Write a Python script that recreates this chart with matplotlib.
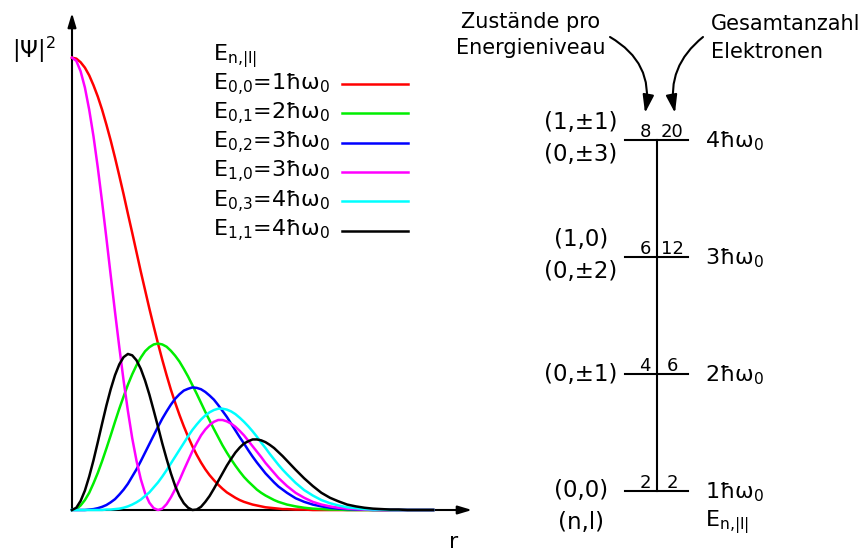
import matplotlib.pyplot as plt

plt.rcParams['font.family'] = 'DejaVu Sans'
plt.rcParams['mathtext.default'] = 'regular'

# radial coordinate (units of the oscillator length)
r = [0.00, 0.05, 0.10, 0.15, 0.20, 0.25, 0.30, 0.35, 0.40, 0.45,
     0.50, 0.55, 0.60, 0.65, 0.70, 0.75, 0.80, 0.85, 0.90, 0.95,
     1.00, 1.05, 1.10, 1.15, 1.20, 1.25, 1.30, 1.35, 1.40, 1.45,
     1.50, 1.55, 1.60, 1.65, 1.70, 1.75, 1.80, 1.85, 1.90, 1.95,
     2.00, 2.05, 2.10, 2.15, 2.20, 2.25, 2.30, 2.35, 2.40, 2.45,
     2.50, 2.6, 2.7, 2.8, 2.9, 3.0, 3.1, 3.2, 3.3, 3.4,
     3.5, 3.6, 3.7, 3.8, 3.9, 4.0, 4.1, 4.2]

# |psi|^2 for each (n, |l|) state
psi_00 = [1.000, 0.998, 0.990, 0.978, 0.961, 0.939, 0.914, 0.885, 0.852, 0.817,
          0.779, 0.739, 0.698, 0.655, 0.613, 0.570, 0.527, 0.486, 0.445, 0.406,
          0.368, 0.332, 0.298, 0.266, 0.237, 0.210, 0.185, 0.162, 0.141, 0.122,
          0.105, 0.090, 0.077, 0.066, 0.056, 0.047, 0.039, 0.033, 0.027, 0.022,
          0.018, 0.015, 0.012, 0.010, 0.008, 0.006, 0.005, 0.004, 0.003, 0.002,
          0.002, 0.001, 0.001, 0, 0, 0, 0, 0, 0, 0,
          0, 0, 0, 0, 0, 0, 0, 0]
psi_01 = [0.000, 0.002, 0.010, 0.022, 0.038, 0.059, 0.082, 0.108, 0.136, 0.165,
          0.195, 0.224, 0.251, 0.277, 0.300, 0.320, 0.337, 0.351, 0.360, 0.366,
          0.368, 0.366, 0.361, 0.352, 0.341, 0.328, 0.312, 0.295, 0.276, 0.257,
          0.237, 0.217, 0.198, 0.179, 0.161, 0.143, 0.127, 0.112, 0.098, 0.085,
          0.073, 0.063, 0.054, 0.045, 0.038, 0.032, 0.027, 0.022, 0.018, 0.015,
          0.012, 0.008, 0.005, 0.003, 0.002, 0.001, 0.001, 0, 0, 0,
          0, 0, 0, 0, 0, 0, 0, 0]
psi_02 = [0.000, 0.000, 0.000, 0.000, 0.001, 0.002, 0.004, 0.007, 0.011, 0.017,
          0.024, 0.034, 0.045, 0.058, 0.074, 0.090, 0.108, 0.127, 0.146, 0.165,
          0.184, 0.202, 0.218, 0.233, 0.246, 0.256, 0.264, 0.268, 0.271, 0.270,
          0.267, 0.261, 0.253, 0.244, 0.232, 0.219, 0.206, 0.191, 0.176, 0.161,
          0.147, 0.132, 0.118, 0.105, 0.093, 0.081, 0.071, 0.061, 0.052, 0.045,
          0.038, 0.026, 0.018, 0.012, 0.008, 0.005, 0.003, 0.002, 0.001, 0.001,
          0, 0, 0, 0, 0, 0, 0, 0]
psi_10 = [1.000, 0.993, 0.970, 0.934, 0.885, 0.826, 0.757, 0.681, 0.601, 0.519,
          0.438, 0.360, 0.286, 0.219, 0.159, 0.109, 0.068, 0.037, 0.016, 0.004,
          0.000, 0.003, 0.013, 0.028, 0.046, 0.066, 0.088, 0.109, 0.130, 0.148,
          0.165, 0.178, 0.188, 0.195, 0.199, 0.199, 0.196, 0.191, 0.184, 0.175,
          0.165, 0.153, 0.141, 0.129, 0.117, 0.104, 0.093, 0.082, 0.071, 0.062,
          0.053, 0.038, 0.027, 0.018, 0.012, 0.008, 0.005, 0.003, 0.002, 0.001,
          0.001, 0, 0, 0, 0, 0, 0, 0]
psi_03 = [0.000, 0.000, 0.000, 0.000, 0.000, 0.000, 0.000, 0.000, 0.001, 0.001,
          0.002, 0.003, 0.005, 0.008, 0.012, 0.017, 0.023, 0.031, 0.039, 0.050,
          0.061, 0.074, 0.088, 0.103, 0.118, 0.133, 0.148, 0.163, 0.177, 0.189,
          0.200, 0.209, 0.216, 0.221, 0.224, 0.224, 0.222, 0.218, 0.212, 0.204,
          0.195, 0.185, 0.174, 0.162, 0.149, 0.137, 0.124, 0.112, 0.100, 0.089,
          0.079, 0.060, 0.044, 0.032, 0.022, 0.015, 0.010, 0.006, 0.004, 0.002,
          0.001, 0.001, 0, 0, 0, 0, 0, 0]
psi_11 = [0.000, 0.005, 0.020, 0.043, 0.074, 0.110, 0.150, 0.191, 0.231, 0.267,
          0.298, 0.322, 0.338, 0.345, 0.342, 0.331, 0.312, 0.286, 0.255, 0.220,
          0.184, 0.147, 0.113, 0.081, 0.053, 0.031, 0.015, 0.005, 0.000, 0.001,
          0.007, 0.018, 0.031, 0.047, 0.064, 0.081, 0.098, 0.113, 0.127, 0.138,
          0.147, 0.152, 0.156, 0.156, 0.154, 0.150, 0.144, 0.137, 0.128, 0.119,
          0.109, 0.089, 0.070, 0.053, 0.038, 0.027, 0.019, 0.012, 0.008, 0.005,
          0.003, 0.002, 0.001, 0.001, 0, 0, 0, 0]

states = ['0,0', '0,1', '0,2', '1,0', '0,3', '1,1']
state_energy = [1, 2, 3, 3, 4, 4]
state_colors = ['#ff0000', '#00ee00', '#0000ff', '#ff00ff', '#00ffff', '#000000']
curves = [psi_00, psi_01, psi_02, psi_10, psi_03, psi_11]

# level scheme
level_energy = [1, 2, 3, 4]
level_states = [2, 4, 6, 8]
level_total = [2, 6, 12, 20]
level_nl = [['(0,0)'], ['(0,±1)'], ['(1,0)', '(0,±2)'], ['(1,±1)', '(0,±3)']]

W, H = 865, 552
fig = plt.figure(figsize=(W / 100, H / 100), dpi=100)

# --- wave functions ---
ax = fig.add_axes([72 / W, 42 / H, 400 / W, 497 / H])
ax.set_xlim(0, 400 / 86)
ax.set_ylim(0, 497 / 452.3)
ax.axis('off')
for vals, col in zip(curves, state_colors):
    ax.plot(r, vals, color=col, lw=1.8, clip_on=False, zorder=2)

axis_arrow = dict(arrowstyle='-|>,head_length=0.6,head_width=0.18', color='black',
                  lw=1.5, shrinkA=0, shrinkB=0, mutation_scale=14)
ax.annotate('', xy=(1, 0), xytext=(0, 0), xycoords='axes fraction',
            arrowprops=axis_arrow, zorder=1)
ax.annotate('', xy=(0, 1), xytext=(0, 0), xycoords='axes fraction',
            arrowprops=axis_arrow, zorder=1)

# overlay in pixel units for labels and legend
ov = fig.add_axes([0, 0, 1, 1])
ov.set_xlim(0, W)
ov.set_ylim(H, 0)
ov.axis('off')

ov.text(12, 58, '|Ψ|$^2$', fontsize=16.5, ha='left', va='baseline')
ov.text(454, 548, 'r', fontsize=16, ha='center', va='baseline')

ov.text(213, 60, 'E$_{n{,}|l|}$', fontsize=16, ha='left', va='baseline')
for i, (st, e, col) in enumerate(zip(states, state_energy, state_colors)):
    y = 84 + i * 29.3
    ov.plot([342, 408], [y, y], color=col, lw=1.8)
    ov.text(213, y + 6, 'E$_{%s}$=%dħω$_0$' % (st.replace(',', '{,}'), e),
            fontsize=16, ha='left', va='baseline')

# --- energy level diagram ---
dg = fig.add_axes([0, 0, 1, 1])
dg.set_xlim(0, W)
dg.set_ylim(1 - (H - 491) / 117, 4 + 140 / 117)
dg.axis('off')

dg.plot([657, 657], [level_energy[0], level_energy[-1]], color='black', lw=1.5)
for e, n_st, n_tot, nl in zip(level_energy, level_states, level_total, level_nl):
    dg.plot([625, 688], [e, e], color='black', lw=1.5)
    dg.annotate(str(n_st), (645, e), xytext=(0, 2), textcoords='offset points',
                ha='center', va='baseline', fontsize=13)
    dg.annotate(str(n_tot), (672, e), xytext=(0, 2), textcoords='offset points',
                ha='center', va='baseline', fontsize=13)
    dg.annotate('%dħω$_0$' % e, (705, e), xytext=(0, -5), textcoords='offset points',
                ha='left', va='baseline', fontsize=16)
    if len(nl) == 1:
        dg.annotate(nl[0], (581, e), ha='center', va='center', fontsize=16.5)
    else:
        dg.annotate(nl[0], (581, e), xytext=(0, 12.5), textcoords='offset points',
                    ha='center', va='center', fontsize=16.5)
        dg.annotate(nl[1], (581, e), xytext=(0, -10.5), textcoords='offset points',
                    ha='center', va='center', fontsize=16.5)

ov.text(581, 523, '(n,l)', fontsize=16.5, ha='center', va='center')
ov.text(705, 526, 'E$_{n{,}|l|}$', fontsize=16, ha='left', va='baseline')

ov.text(531, 28, 'Zustände pro', fontsize=15, ha='center', va='baseline')
ov.text(531, 54, 'Energieniveau', fontsize=15, ha='center', va='baseline')
ov.text(711, 30, 'Gesamtanzahl', fontsize=15, ha='left', va='baseline')
ov.text(711, 58, 'Elektronen', fontsize=15, ha='left', va='baseline')

bent = dict(arrowstyle='-|>,head_length=0.9,head_width=0.28', color='black',
            lw=1.5, shrinkA=0, shrinkB=0, mutation_scale=12)
ov.annotate('', xy=(645, 113), xytext=(610, 37),
            arrowprops=dict(bent, connectionstyle='arc3,rad=-0.35'))
ov.annotate('', xy=(675, 113), xytext=(703, 37),
            arrowprops=dict(bent, connectionstyle='arc3,rad=0.3'))

fig.savefig('out.png', dpi=100)
